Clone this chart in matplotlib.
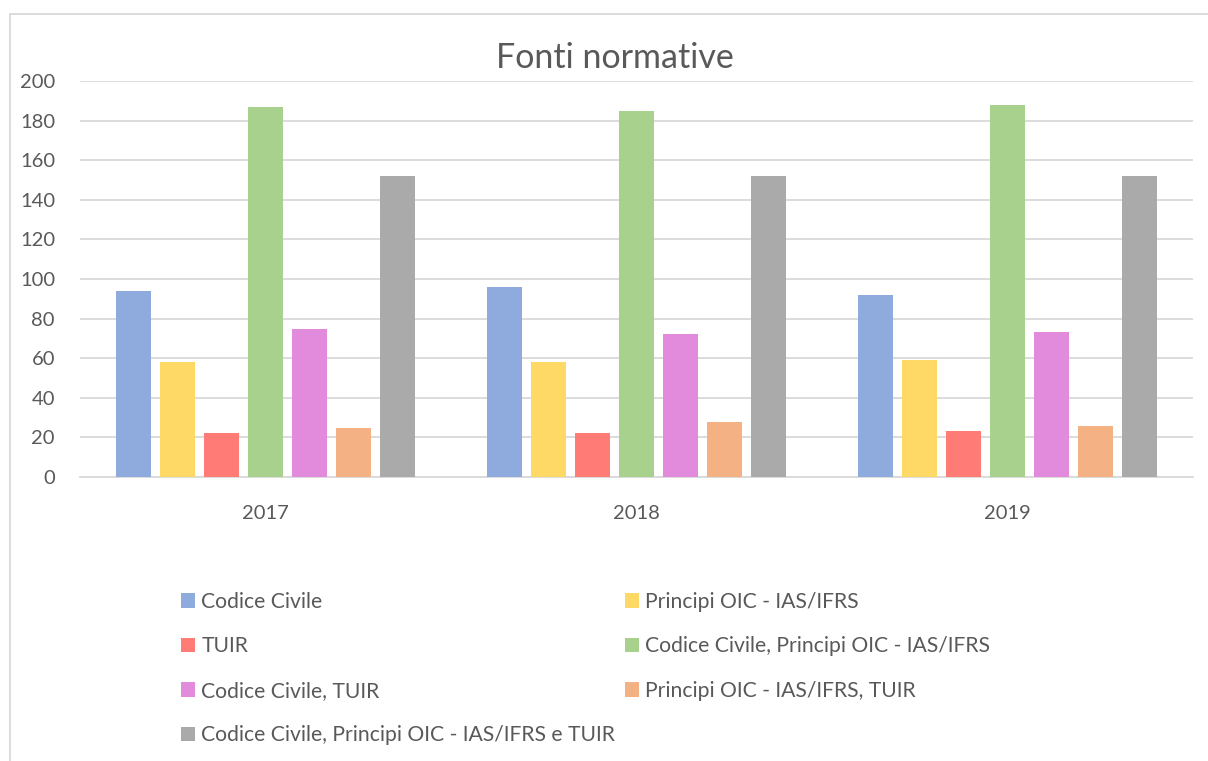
import matplotlib
matplotlib.use("Agg")
import matplotlib.pyplot as plt
import numpy as np
from matplotlib.patches import Rectangle

plt.rcParams['font.family'] = ['Lato', 'DejaVu Sans']

years = ["2017", "2018", "2019"]
series_names = [
    "Codice Civile",
    "Principi OIC - IAS/IFRS",
    "TUIR",
    "Codice Civile, Principi OIC - IAS/IFRS",
    "Codice Civile, TUIR",
    "Principi OIC - IAS/IFRS, TUIR",
    "Codice Civile, Principi OIC - IAS/IFRS e TUIR",
]
codice_civile = [94, 96, 92]
principi_oic = [58, 58, 59]
tuir = [22, 22, 23]
cc_oic = [187, 185, 188]
cc_tuir = [75, 72, 73]
oic_tuir = [25, 28, 26]
cc_oic_tuir = [152, 152, 152]
series_values = [codice_civile, principi_oic, tuir, cc_oic, cc_tuir, oic_tuir, cc_oic_tuir]
colors = ["#8FAADC", "#FFD966", "#FF7C76", "#A9D18E", "#E28ADB", "#F4B183", "#AAAAAA"]
yticks = [0, 20, 40, 60, 80, 100, 120, 140, 160, 180, 200]

W, H = 1208, 761
fig = plt.figure(figsize=(W / 100, H / 100), dpi=100)
fig.patch.set_facecolor("white")

# chart border (top and left visible)
fig.add_artist(Rectangle((10 / W, -0.05), 1.5, (H - 14) / H + 0.05, transform=fig.transFigure,
                         fill=False, edgecolor="#D9D9D9", linewidth=1.3))

ax = fig.add_axes([80 / W, (H - 477) / H, (1193 - 80) / W, (477 - 81) / H])
x = np.arange(len(years))
slot = 0.1186
bw = 0.094
handles = []
for i, (vals, c) in enumerate(zip(series_values, colors)):
    b = ax.bar(x + (i - 3) * slot, vals, width=bw, color=c, zorder=3, label=series_names[i])
    handles.append(b)

ax.set_xlim(-0.5, 2.5)
ax.set_ylim(0, 200)
ax.set_yticks(yticks)
ax.set_xticks(x)
ax.set_xticklabels(years)
ax.yaxis.grid(True, color="#D9D9D9", linewidth=1.3, zorder=0)
ax.set_axisbelow(True)
for s in ["top", "right", "left"]:
    ax.spines[s].set_visible(False)
ax.spines["bottom"].set_color("#D9D9D9")
ax.spines["bottom"].set_linewidth(1.3)
ax.tick_params(axis="both", length=0, labelsize=14.5, labelcolor="#595959")
ax.tick_params(axis="y", pad=18)
ax.tick_params(axis="x", pad=20)

fig.text(615 / W, 1 - 58 / H, "Fonti normative", ha="center", va="center",
         fontsize=24.5, color="#595959")

leg_kw = dict(frameon=False, fontsize=15.2, labelcolor="#595959", handlelength=0.68,
              handleheight=0.68, handletextpad=0.28, labelspacing=1.16, borderpad=0,
              borderaxespad=0)
col1 = [0, 2, 4, 6]
col2 = [1, 3, 5]
fig.legend([handles[i] for i in col1], [series_names[i] for i in col1],
           loc="upper left", bbox_to_anchor=(181 / W, 1 - 592 / H), **leg_kw)
fig.legend([handles[i] for i in col2], [series_names[i] for i in col2],
           loc="upper left", bbox_to_anchor=(625 / W, 1 - 592 / H), **leg_kw)

fig.savefig("out.png", dpi=100, facecolor="white")
